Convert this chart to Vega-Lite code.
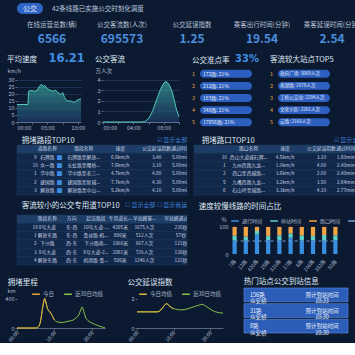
{
 "$schema": "https://vega.github.io/schema/vega-lite/v6.json",
 "background": "#0c1a31",
 "padding": {"left": 4, "top": 3, "right": 0, "bottom": 0},
 "spacing": 5,
 "resolve": {"scale": {"color": "independent"}, "legend": {"color": "independent"}},
 "datasets": {
  "mile": [
   {"h":0,"v":0,"s":"今日"},{"h":1,"v":0,"s":"今日"},{"h":2,"v":0,"s":"今日"},{"h":3,"v":0,"s":"今日"},{"h":4,"v":0,"s":"今日"},{"h":5,"v":0,"s":"今日"},{"h":5.5,"v":5,"s":"今日"},{"h":6,"v":40,"s":"今日"},{"h":6.5,"v":150,"s":"今日"},{"h":7,"v":330,"s":"今日"},{"h":7.4,"v":410,"s":"今日"},{"h":7.8,"v":330,"s":"今日"},{"h":8.2,"v":260,"s":"今日"},{"h":8.7,"v":230,"s":"今日"},{"h":9.2,"v":190,"s":"今日"},{"h":9.7,"v":140,"s":"今日"},{"h":10,"v":110,"s":"今日"},
   {"h":0,"v":0,"s":"近30日均值"},{"h":2,"v":0,"s":"近30日均值"},{"h":4,"v":0,"s":"近30日均值"},{"h":5,"v":0,"s":"近30日均值"},{"h":6,"v":40,"s":"近30日均值"},{"h":7,"v":320,"s":"近30日均值"},{"h":7.4,"v":400,"s":"近30日均值"},{"h":8.2,"v":260,"s":"近30日均值"},{"h":9.2,"v":190,"s":"近30日均值"},{"h":10,"v":110,"s":"近30日均值"},{"h":10.5,"v":90,"s":"近30日均值"},{"h":11,"v":80,"s":"近30日均值"},{"h":12,"v":75,"s":"近30日均值"},{"h":13,"v":85,"s":"近30日均值"},{"h":14,"v":95,"s":"近30日均值"},{"h":15,"v":110,"s":"近30日均值"},{"h":15.8,"v":140,"s":"近30日均值"},{"h":16.5,"v":180,"s":"近30日均值"},{"h":17,"v":250,"s":"近30日均值"},{"h":17.4,"v":290,"s":"近30日均值"},{"h":17.8,"v":230,"s":"近30日均值"},{"h":18.3,"v":150,"s":"近30日均值"},{"h":19,"v":100,"s":"近30日均值"},{"h":20,"v":70,"s":"近30日均值"},{"h":21,"v":45,"s":"近30日均值"},{"h":22,"v":25,"s":"近30日均值"},{"h":23,"v":10,"s":"近30日均值"},{"h":23.5,"v":0,"s":"近30日均值"}
  ],
  "delay": [
   {"h":0,"v":1.0,"s":"今日均值"},{"h":2,"v":1.0,"s":"今日均值"},{"h":4,"v":1.0,"s":"今日均值"},{"h":5.5,"v":1.0,"s":"今日均值"},{"h":6,"v":1.02,"s":"今日均值"},{"h":6.5,"v":1.1,"s":"今日均值"},{"h":7,"v":1.25,"s":"今日均值"},{"h":7.5,"v":1.4,"s":"今日均值"},{"h":8.0,"v":1.52,"s":"今日均值"},{"h":8.4,"v":1.48,"s":"今日均值"},{"h":8.9,"v":1.35,"s":"今日均值"},{"h":9.5,"v":1.25,"s":"今日均值"},{"h":10,"v":1.2,"s":"今日均值"},
   {"h":0,"v":1.0,"s":"近30日均值"},{"h":5.5,"v":1.0,"s":"近30日均值"},{"h":7,"v":1.25,"s":"近30日均值"},{"h":8,"v":1.5,"s":"近30日均值"},{"h":9,"v":1.33,"s":"近30日均值"},{"h":10,"v":1.2,"s":"近30日均值"},{"h":11,"v":1.15,"s":"近30日均值"},{"h":12,"v":1.12,"s":"近30日均值"},{"h":13,"v":1.14,"s":"近30日均值"},{"h":14,"v":1.2,"s":"近30日均值"},{"h":15,"v":1.28,"s":"近30日均值"},{"h":16,"v":1.35,"s":"近30日均值"},{"h":17,"v":1.42,"s":"近30日均值"},{"h":17.8,"v":1.47,"s":"近30日均值"},{"h":18.5,"v":1.4,"s":"近30日均值"},{"h":19.5,"v":1.25,"s":"近30日均值"},{"h":20.5,"v":1.1,"s":"近30日均值"},{"h":21.5,"v":1.0,"s":"近30日均值"},{"h":22.5,"v":0.95,"s":"近30日均值"},{"h":23.5,"v":0.92,"s":"近30日均值"}
  ]
 },
 "vconcat": [
  {
   "width": 26, "height": 11,
   "view": {"fill": "#2f64c4", "cornerRadius": 6, "stroke": null},
   "data": {"values": [{"t": "公交", "s": "42条线路已实施公交时刻化调度"}]},
   "layer": [
    {"mark": {"type": "text", "color": "#e6eeff", "fontSize": 7}, "encoding": {"text": {"field": "t"}}},
    {"mark": {"type": "text", "align": "left", "dx": 22, "color": "#b9c8df", "fontSize": 6.5}, "encoding": {"text": {"field": "s"}}}
   ]
  },
  {
   "width": 350, "height": 28,
   "data": {"values": [
    {"label": "在线运营总数(辆)", "value": "6566"},
    {"label": "公交客流数(人次)", "value": "695573"},
    {"label": "公交延误指数", "value": "1.25"},
    {"label": "乘客出行时间(分钟)", "value": "19.54"},
    {"label": "乘客延误时间(分钟)", "value": "2.54"}
   ]},
   "encoding": {"x": {"field": "label", "type": "nominal", "sort": null, "axis": null}},
   "layer": [
    {"mark": {"type": "text", "dy": -8, "fontSize": 6.5, "color": "#b8c4d6"}, "encoding": {"text": {"field": "label"}}},
    {"mark": {"type": "text", "dy": 6, "fontSize": 12, "fontWeight": "bold", "color": "#4a8ede"}, "encoding": {"text": {"field": "value"}}}
   ]
  },
  {
   "spacing": 10,
   "resolve": {"scale": {"color": "independent"}, "legend": {"color": "independent"}},
   "hconcat": [
    {
     "title": {"text": "平均速度", "offset": -11},
     "vconcat": [{
      "width": 64, "height": 54,
      "title": {"text": "16.21", "anchor": "end", "fontSize": 11.5, "color": "#3f8ee3", "fontWeight": "bold", "font": "DejaVu Sans", "offset": 4},
      "data": {"values": [{"h":0,"v":12.5},{"h":1.8,"v":12.5},{"h":1.9,"v":22},{"h":2.3,"v":22.5},{"h":2.8,"v":22},{"h":3.3,"v":22.5},{"h":3.6,"v":25},{"h":4.0,"v":27},{"h":4.3,"v":25.5},{"h":4.6,"v":26},{"h":4.9,"v":24},{"h":5.3,"v":23},{"h":5.6,"v":22.5},{"h":6.0,"v":22},{"h":6.3,"v":22.8},{"h":6.6,"v":21.5},{"h":6.9,"v":20.5},{"h":7.2,"v":19.5},{"h":7.5,"v":21},{"h":7.8,"v":17.5},{"h":8.1,"v":15.5},{"h":8.4,"v":15},{"h":8.8,"v":15},{"h":9.1,"v":14.5},{"h":9.5,"v":14},{"h":9.8,"v":15.5},{"h":10.1,"v":16},{"h":10.5,"v":16.5}]},
      "mark": {"type": "area", "line": {"color": "#52c7b8", "strokeWidth": 1}, "color": {"gradient": "linear", "x1": 0, "y1": 0, "x2": 0, "y2": 1, "stops": [{"offset": 0, "color": "#3aa79d"}, {"offset": 1, "color": "#1b3866"}]}},
      "encoding": {
       "x": {"field": "h", "type": "quantitative", "scale": {"domain": [0, 10.5], "nice": false}, "axis": {"values": [0, 2.5, 5, 7.5, 10], "labelExpr": "(datum.value<10?'0':'')+floor(datum.value)+':'+(datum.value%1==0?'00':'30')", "title": null}},
       "y": {"field": "v", "type": "quantitative", "scale": {"domain": [0, 38.57], "nice": false}, "axis": {"values": [0, 5, 10, 15, 20, 25, 30], "grid": true, "domain": false, "title": "km/h", "titleAngle": 0, "titleAlign": "left", "titleBaseline": "top", "titleX": -10, "titleY": 0}}
      }
     }]
    },
    {
     "width": 76, "height": 54,
     "title": {"text": "公交客流", "offset": 5},
     "data": {"values": [{"h":0,"v":0},{"h":1,"v":0},{"h":2,"v":0},{"h":3,"v":0},{"h":4,"v":0},{"h":5,"v":0},{"h":5.5,"v":0.05},{"h":6,"v":0.3},{"h":6.5,"v":1.0},{"h":7,"v":2.0},{"h":7.5,"v":3.0},{"h":7.9,"v":3.6},{"h":8.2,"v":3.85},{"h":8.5,"v":3.75},{"h":8.8,"v":3.4},{"h":9.1,"v":2.9},{"h":9.4,"v":2.0},{"h":9.7,"v":1.1},{"h":10,"v":0.5}]},
     "mark": {"type": "area", "line": {"color": "#52c7b8", "strokeWidth": 1}, "color": {"gradient": "linear", "x1": 0, "y1": 0, "x2": 0, "y2": 1, "stops": [{"offset": 0, "color": "#3aa79d"}, {"offset": 1, "color": "#1b3866"}]}},
     "encoding": {
      "x": {"field": "h", "type": "quantitative", "scale": {"domain": [0, 10], "nice": false}, "axis": {"values": [0, 2, 4, 6, 8, 10], "labelExpr": "(datum.value<10?'0':'')+floor(datum.value)+':00'", "title": null}},
      "y": {"field": "v", "type": "quantitative", "scale": {"domain": [0, 5.14], "nice": false}, "axis": {"values": [0, 1, 2, 3, 4], "grid": true, "domain": false, "title": "万人次", "titleAngle": 0, "titleAlign": "left", "titleBaseline": "top", "titleX": -8, "titleY": 0}}
     }
    },
    {
     "title": {"text": "公交准点率", "offset": -10},
     "vconcat": [{
      "width": 52, "height": 60,
      "title": {"text": "33%", "anchor": "end", "fontSize": 10, "color": "#3f8ee3", "fontWeight": "bold", "font": "DejaVu Sans", "offset": 4, "dx": 7},
      "data": {"values": [
       {"rank": "1", "label": "172路: 21%"},
       {"rank": "2", "label": "212路: 21%"},
       {"rank": "3", "label": "183路: 21%"},
       {"rank": "4", "label": "348路: 21%"},
       {"rank": "5", "label": "17056路: 21%"}
      ]},
      "encoding": {"y": {"field": "rank", "type": "ordinal", "axis": null, "scale": {"paddingInner": 0.35, "paddingOuter": 0.15}}},
      "layer": [
       {"mark": {"type": "bar", "color": "#2d5fc0", "cornerRadius": 4}},
       {"mark": {"type": "text", "align": "left", "dx": -23, "color": "#e8eef8", "fontSize": 5}, "encoding": {"text": {"field": "label"}}},
       {"mark": {"type": "text", "align": "right", "dx": -31, "color": "#e0a040", "fontSize": 5.5}, "encoding": {"text": {"field": "rank"}}}
      ]
     }]
    },
    {
     "width": 52, "height": 60,
     "title": {"text": "客流较大站点TOP5", "offset": 5},
     "data": {"values": [
      {"rank": "1", "label": "政府广场: 3069人次"},
      {"rank": "2", "label": "南湖路: 2878人次"},
      {"rank": "3", "label": "丁桥公交站: 2294人次"},
      {"rank": "4", "label": "文化小区: 2261人次"},
      {"rank": "5", "label": "云路: 2166人次"}
     ]},
     "encoding": {"y": {"field": "rank", "type": "ordinal", "axis": null, "scale": {"paddingInner": 0.35, "paddingOuter": 0.15}}},
     "layer": [
      {"mark": {"type": "bar", "color": "#2d5fc0", "cornerRadius": 4}},
      {"mark": {"type": "text", "align": "left", "dx": -24, "color": "#e8eef8", "fontSize": 4.6}, "encoding": {"text": {"field": "label"}}},
      {"mark": {"type": "text", "align": "right", "dx": -31, "color": "#e0a040", "fontSize": 5.5}, "encoding": {"text": {"field": "rank"}}}
     ]
    }
   ]
  },
  {
   "spacing": 5,
   "resolve": {"scale": {"color": "independent"}, "legend": {"color": "independent"}},
   "hconcat": [
    {
     "title": {"text": "拥堵路段TOP10", "dx": 5, "offset": -8},
     "vconcat": [{
      "width": 170, "height": 50,
      "title": {"text": "☑ 显示全部", "anchor": "end", "fontSize": 6, "color": "#3d7fd6", "offset": 2},
      "data": {"values": [
       {"r": 0, "rank": "", "road": "道路名称", "icon": "", "seg": "路段名称", "speed": "速度", "delay": "公交延误指数", "time": "通过时间"},
       {"r": 1, "rank": "9", "road": "石牌路", "icon": "■", "seg": "石牌路至解放...", "speed": "6.6km/h", "delay": "3.40", "time": "5.00min"},
       {"r": 2, "rank": "10", "road": "众一路", "icon": "■", "seg": "长虹路至曙桥...", "speed": "7.6km/h", "delay": "3.10", "time": "5.00min"},
       {"r": 3, "rank": "1", "road": "华中路", "icon": "■", "seg": "华中路至老三...", "speed": "4.7km/h", "delay": "4.80", "time": "5.00min"},
       {"r": 4, "rank": "2", "road": "建国路", "icon": "■", "seg": "建国路至新城...", "speed": "7.7km/h", "delay": "4.30", "time": "5.00min"},
       {"r": 5, "rank": "3", "road": "解放路", "icon": "■", "seg": "解放路至中山...", "speed": "5.2km/h", "delay": "4.10", "time": "5.00min"}
      ]},
      "encoding": {"y": {"field": "r", "type": "ordinal", "axis": null, "scale": {"paddingInner": 0, "paddingOuter": 0}}},
      "resolve": {"scale": {"x": "independent"}},
      "layer": [
       {"mark": {"type": "rect", "stroke": "#1f3a60", "strokeWidth": 0.5}, "encoding": {"color": {"condition": {"test": "datum.r == 0", "value": "#1d3c66"}, "value": "#12284a"}}},
       {"transform": [{"fold": ["rank", "road", "icon", "seg", "speed", "delay", "time"], "as": ["c", "v"]}], "mark": {"type": "text", "clip": true}, "encoding": {"x": {"field": "c", "type": "nominal", "scale": {"domain": ["_0", "rank", "road", "icon", "_4", "seg", "_6", "_7", "speed", "_9", "_10", "delay", "_12", "time"], "paddingInner": 0, "paddingOuter": 0}, "axis": null}, "text": {"field": "v"}, "color": {"condition": {"test": "datum.c == 'icon'", "value": "#3b8de4"}, "value": "#c9d4e4"}, "size": {"condition": {"test": "datum.c == 'icon'", "value": 6}, "value": 4.8}}}
      ]
     }]
    },
    {
     "title": {"text": "拥堵路口TOP10", "dx": 8, "offset": -8},
     "vconcat": [{
      "width": 170, "height": 50,
      "title": {"text": "☑ 显示全部", "anchor": "end", "fontSize": 6, "color": "#3d7fd6", "offset": 2},
      "data": {"values": [
       {"r": 0, "rank": "", "name": "路口名称", "speed": "速度", "delay": "公交延误指数", "time": "通过时间"},
       {"r": 1, "rank": "10", "name": "西山大道城石牌...", "speed": "4.5km/h", "delay": "3.10", "time": "1.80min"},
       {"r": 2, "rank": "1", "name": "九州西路九龙...", "speed": "1.0km/h", "delay": "4.00", "time": "2.40min"},
       {"r": 3, "rank": "2", "name": "西口至西城路...", "speed": "3.6km/h", "delay": "2.00", "time": "2.40min"},
       {"r": 4, "rank": "5", "name": "九嘴西路九龙...", "speed": "3.2km/h", "delay": "3.50", "time": "2.84min"},
       {"r": 5, "rank": "6", "name": "石山坪至城路...", "speed": "3.3km/h", "delay": "4.10", "time": "2.77min"}
      ]},
      "encoding": {"y": {"field": "r", "type": "ordinal", "axis": null, "scale": {"paddingInner": 0, "paddingOuter": 0}}},
      "resolve": {"scale": {"x": "independent"}},
      "layer": [
       {"mark": {"type": "rect", "stroke": "#1f3a60", "strokeWidth": 0.5}, "encoding": {"color": {"condition": {"test": "datum.r == 0", "value": "#1d3c66"}, "value": "#12284a"}}},
       {"transform": [{"fold": ["rank", "name", "speed", "delay", "time"], "as": ["c", "v"]}], "mark": {"type": "text", "fontSize": 4.8, "color": "#c9d4e4", "clip": true}, "encoding": {"x": {"field": "c", "type": "nominal", "scale": {"domain": ["_0", "_1", "rank", "_3", "name", "_5", "_6", "speed", "_8", "_9", "delay", "_11", "time", "_13"], "paddingInner": 0, "paddingOuter": 0}, "axis": null}, "text": {"field": "v"}}}
      ]
     }]
    }
   ]
  },
  {
   "spacing": 10,
   "resolve": {"scale": {"color": "independent"}, "legend": {"color": "independent"}},
   "hconcat": [
    {
     "title": {"text": "客流较小的公交专用道TOP10", "dx": 5, "offset": -8},
     "vconcat": [{
      "width": 170, "height": 50,
      "title": {"text": "☐ 显示全部 ☐ 显示春运", "anchor": "end", "fontSize": 6, "color": "#3d7fd6", "offset": 7},
      "data": {"values": [
       {"r": 0, "rank": "", "name": "路段名称", "dir": "方向", "range": "起讫路段", "len": "专用道长...", "flow": "早高峰客...", "time": "早高峰通过时间"},
       {"r": 1, "rank": "10", "name": "8号大道", "dir": "东-西", "range": "10号大道-...", "len": "4205米", "flow": "1675人次", "time": "220秒"},
       {"r": 2, "rank": "1", "name": "解放东路", "dir": "东-西", "range": "鲁谷路-机...", "len": "800米", "flow": "512人次", "time": "57秒"},
       {"r": 3, "rank": "2", "name": "下沙路", "dir": "西-东", "range": "下沙路南...", "len": "1060米", "flow": "667人次", "time": "121秒"},
       {"r": 4, "rank": "3", "name": "8号大道", "dir": "西-东", "range": "8号大道-2...", "len": "2081米", "flow": "726人次", "time": "120秒"},
       {"r": 5, "rank": "4", "name": "解放东路", "dir": "西-东", "range": "机场路-鲁...", "len": "500米", "flow": "1246人次", "time": "122秒"}
      ]},
      "encoding": {"y": {"field": "r", "type": "ordinal", "axis": null, "scale": {"paddingInner": 0, "paddingOuter": 0}}},
      "resolve": {"scale": {"x": "independent"}},
      "layer": [
       {"mark": {"type": "rect", "stroke": "#1f3a60", "strokeWidth": 0.5}, "encoding": {"color": {"condition": {"test": "datum.r == 0", "value": "#1d3c66"}, "value": "#12284a"}}},
       {"transform": [{"fold": ["rank", "name", "dir", "range", "len", "flow", "time"], "as": ["c", "v"]}], "mark": {"type": "text", "fontSize": 4.8, "color": "#c9d4e4", "clip": true}, "encoding": {"x": {"field": "c", "type": "nominal", "scale": {"domain": ["_0", "rank", "name", "_3", "dir", "_5", "range", "_7", "len", "_9", "flow", "_11", "_12", "time"], "paddingInner": 0, "paddingOuter": 0}, "axis": null}, "text": {"field": "v"}}}
      ]
     }]
    },
    {
     "width": 112, "height": 39,
     "title": {"text": "速度较慢线路的时间占比", "dx": -20, "offset": 5},
     "layer": [
      {
       "data": {"values": [
        {"route":"7路","seg":"通行时间","o":1,"v":50},{"route":"7路","seg":"停站时间","o":2,"v":18},{"route":"7路","seg":"路口时间","o":3,"v":32},
        {"route":"12路","seg":"通行时间","o":1,"v":49},{"route":"12路","seg":"停站时间","o":2,"v":15},{"route":"12路","seg":"路口时间","o":3,"v":36},
        {"route":"420路","seg":"通行时间","o":1,"v":72},{"route":"420路","seg":"停站时间","o":2,"v":13},{"route":"420路","seg":"路口时间","o":3,"v":15},
        {"route":"25路","seg":"通行时间","o":1,"v":51},{"route":"25路","seg":"停站时间","o":2,"v":16},{"route":"25路","seg":"路口时间","o":3,"v":33},
        {"route":"310路","seg":"通行时间","o":1,"v":51},{"route":"310路","seg":"停站时间","o":2,"v":18},{"route":"310路","seg":"路口时间","o":3,"v":31},
        {"route":"17路","seg":"通行时间","o":1,"v":60},{"route":"17路","seg":"停站时间","o":2,"v":16},{"route":"17路","seg":"路口时间","o":3,"v":24},
        {"route":"8路","seg":"通行时间","o":1,"v":51},{"route":"8路","seg":"停站时间","o":2,"v":18},{"route":"8路","seg":"路口时间","o":3,"v":31},
        {"route":"106路","seg":"通行时间","o":1,"v":51},{"route":"106路","seg":"停站时间","o":2,"v":16},{"route":"106路","seg":"路口时间","o":3,"v":33},
        {"route":"352路","seg":"通行时间","o":1,"v":49},{"route":"352路","seg":"停站时间","o":2,"v":21},{"route":"352路","seg":"路口时间","o":3,"v":30},
        {"route":"50路","seg":"通行时间","o":1,"v":51},{"route":"50路","seg":"停站时间","o":2,"v":18},{"route":"50路","seg":"路口时间","o":3,"v":31}
       ]},
       "mark": {"type": "bar", "width": {"band": 0.42}},
       "encoding": {
        "x": {"field": "route", "type": "nominal", "sort": null, "axis": {"labelAngle": -50, "title": null, "domain": false, "ticks": false, "labelFontSize": 5, "labelPadding": 6}},
        "y": {"field": "v", "type": "quantitative", "stack": "zero", "scale": {"domain": [0, 144], "nice": false}, "axis": {"values": [0, 20, 40, 60, 80, 100], "title": "%", "titleAngle": 0, "titleAlign": "left", "titleBaseline": "top", "titleX": -8, "titleY": 2, "domain": false, "ticks": false}},
        "color": {"field": "seg", "type": "nominal", "scale": {"domain": ["通行时间", "停站时间", "路口时间", "延误占比"], "range": ["#3a8ee0", "#5fd1c9", "#f2a444", "#6f9fd6"]}, "legend": {"title": null, "orient": "top-left", "offset": 1, "direction": "horizontal", "labelFontSize": 5, "columnPadding": 4}},
        "order": {"field": "o", "type": "quantitative"}
       }
      },
      {
       "data": {"values": [
        {"route":"7路","seg":"延误占比","v":48},{"route":"12路","seg":"延误占比","v":48},{"route":"420路","seg":"延误占比","v":48},{"route":"25路","seg":"延误占比","v":48},{"route":"310路","seg":"延误占比","v":48},{"route":"17路","seg":"延误占比","v":48},{"route":"8路","seg":"延误占比","v":48},{"route":"106路","seg":"延误占比","v":48},{"route":"352路","seg":"延误占比","v":48},{"route":"50路","seg":"延误占比","v":48}
       ]},
       "mark": {"type": "line", "strokeDash": [3, 3], "strokeWidth": 1},
       "encoding": {
        "x": {"field": "route", "type": "nominal", "sort": null},
        "y": {"field": "v", "type": "quantitative"},
        "color": {"field": "seg", "type": "nominal"}
       }
      }
     ]
    }
   ]
  },
  {
   "spacing": 18,
   "resolve": {"scale": {"color": "independent"}, "legend": {"color": "independent"}},
   "hconcat": [
    {
     "spacing": 20,
     "resolve": {"scale": {"color": "independent"}, "legend": {"color": "independent"}},
     "hconcat": [
      {
       "width": 88, "height": 40,
       "title": {"text": "拥堵里程", "dx": 3, "offset": 2},
       "layer": [
        {"data": {"name": "mile"}, "transform": [{"filter": "datum.s == '近30日均值'"}], "mark": {"type": "line", "strokeWidth": 1, "interpolate": "monotone"},
         "encoding": {
          "x": {"field": "h", "type": "quantitative", "scale": {"domain": [0, 23.5], "nice": false}, "axis": {"values": [0, 2.5, 5, 7.5, 10, 12.5, 15, 17.5, 20, 22.5], "labelExpr": "(datum.value<10?'0':'')+floor(datum.value)+':'+(datum.value%1==0?'00':'30')", "labelAngle": -50, "title": null, "labelFontSize": 5}},
          "y": {"field": "v", "type": "quantitative", "scale": {"domain": [0, 550], "nice": false}, "axis": {"values": [0, 100, 200, 300, 400], "domain": false, "title": "km", "titleAngle": 0, "titleAlign": "left", "titleBaseline": "top", "titleX": -10, "titleY": 0}},
          "color": {"field": "s", "type": "nominal", "scale": {"domain": ["今日", "近30日均值"], "range": ["#e8a33d", "#8bc34a"]}, "legend": {"title": null, "orient": "top-right", "offset": 1, "direction": "horizontal"}}
         }},
        {"data": {"name": "mile"}, "transform": [{"filter": "datum.s == '今日'"}], "mark": {"type": "line", "strokeWidth": 1, "interpolate": "monotone"},
         "encoding": {"x": {"field": "h", "type": "quantitative"}, "y": {"field": "v", "type": "quantitative"}, "color": {"field": "s", "type": "nominal"}}}
       ]
      },
      {
       "width": 86, "height": 40,
       "title": {"text": "公交延误指数", "offset": 2},
       "layer": [
        {"data": {"name": "delay"}, "transform": [{"filter": "datum.s == '近30日均值'"}], "mark": {"type": "line", "strokeWidth": 1, "interpolate": "monotone"},
         "encoding": {
          "x": {"field": "h", "type": "quantitative", "scale": {"domain": [0, 23.5], "nice": false}, "axis": {"values": [0, 2.5, 5, 7.5, 10, 12.5, 15, 17.5, 20, 22.5], "labelExpr": "(datum.value<10?'0':'')+floor(datum.value)+':'+(datum.value%1==0?'00':'30')", "labelAngle": -50, "title": null, "labelFontSize": 5}},
          "y": {"field": "v", "type": "quantitative", "scale": {"domain": [0, 2.48], "nice": false}, "axis": {"values": [0, 0.3, 0.6, 0.9, 1.2, 1.5, 1.8], "domain": false, "title": null}},
          "color": {"field": "s", "type": "nominal", "scale": {"domain": ["今日均值", "近30日均值"], "range": ["#e3b23c", "#8bc34a"]}, "legend": {"title": null, "orient": "top-right", "offset": 1, "direction": "horizontal"}}
         }},
        {"data": {"name": "delay"}, "transform": [{"filter": "datum.s == '今日均值'"}], "mark": {"type": "line", "strokeWidth": 1, "interpolate": "monotone"},
         "encoding": {"x": {"field": "h", "type": "quantitative"}, "y": {"field": "v", "type": "quantitative"}, "color": {"field": "s", "type": "nominal"}}}
       ]
      }
     ]
    },
    {
     "width": 104, "height": 45,
     "title": {"text": "热门站点公交到站信息", "offset": 2},
     "data": {"values": [
      {"id": 1, "left": ["156路", "众安桥"], "right": ["预计到站时间", "10:33"]},
      {"id": 2, "left": ["31路", "众安桥"], "right": ["预计到站时间", "10:30"]},
      {"id": 3, "left": ["8路", "众安桥"], "right": ["预计到站时间", "10:30"]}
     ]},
     "encoding": {"y": {"field": "id", "type": "ordinal", "axis": null, "scale": {"paddingInner": 0.12, "paddingOuter": 0}}},
     "layer": [
      {"mark": {"type": "rect", "color": "#2c5db8", "stroke": "#5d8fe0", "strokeWidth": 0.6}},
      {"mark": {"type": "text", "align": "left", "dx": -46, "fontSize": 5.5, "color": "#f0f4fb", "lineHeight": 6.5}, "encoding": {"text": {"field": "left"}}},
      {"mark": {"type": "text", "align": "center", "dx": 26, "fontSize": 5.5, "color": "#f0f4fb", "lineHeight": 6.5}, "encoding": {"text": {"field": "right"}}}
     ]
    }
   ]
  }
 ],
 "config": {
  "font": "Noto Sans CJK SC",
  "view": {"stroke": null},
  "axis": {"labelColor": "#aebbd0", "labelFontSize": 5.5, "domainColor": "#8a9bb5", "tickColor": "#8a9bb5", "tickSize": 2, "labelPadding": 1, "gridColor": "#1e3354", "grid": false, "titleColor": "#aebbd0", "titleFontSize": 5.5, "titleFontWeight": "normal", "domainWidth": 0.6, "tickWidth": 0.6},
  "legend": {"labelColor": "#aebbd0", "labelFontSize": 5.5, "symbolType": "stroke", "symbolSize": 60, "symbolStrokeWidth": 1.5, "columnPadding": 6, "padding": 0, "offset": 2, "labelOffset": 2},
  "title": {"color": "#dfe7f3", "fontSize": 7.5, "fontWeight": "normal", "anchor": "start", "offset": 3}
 }
}
